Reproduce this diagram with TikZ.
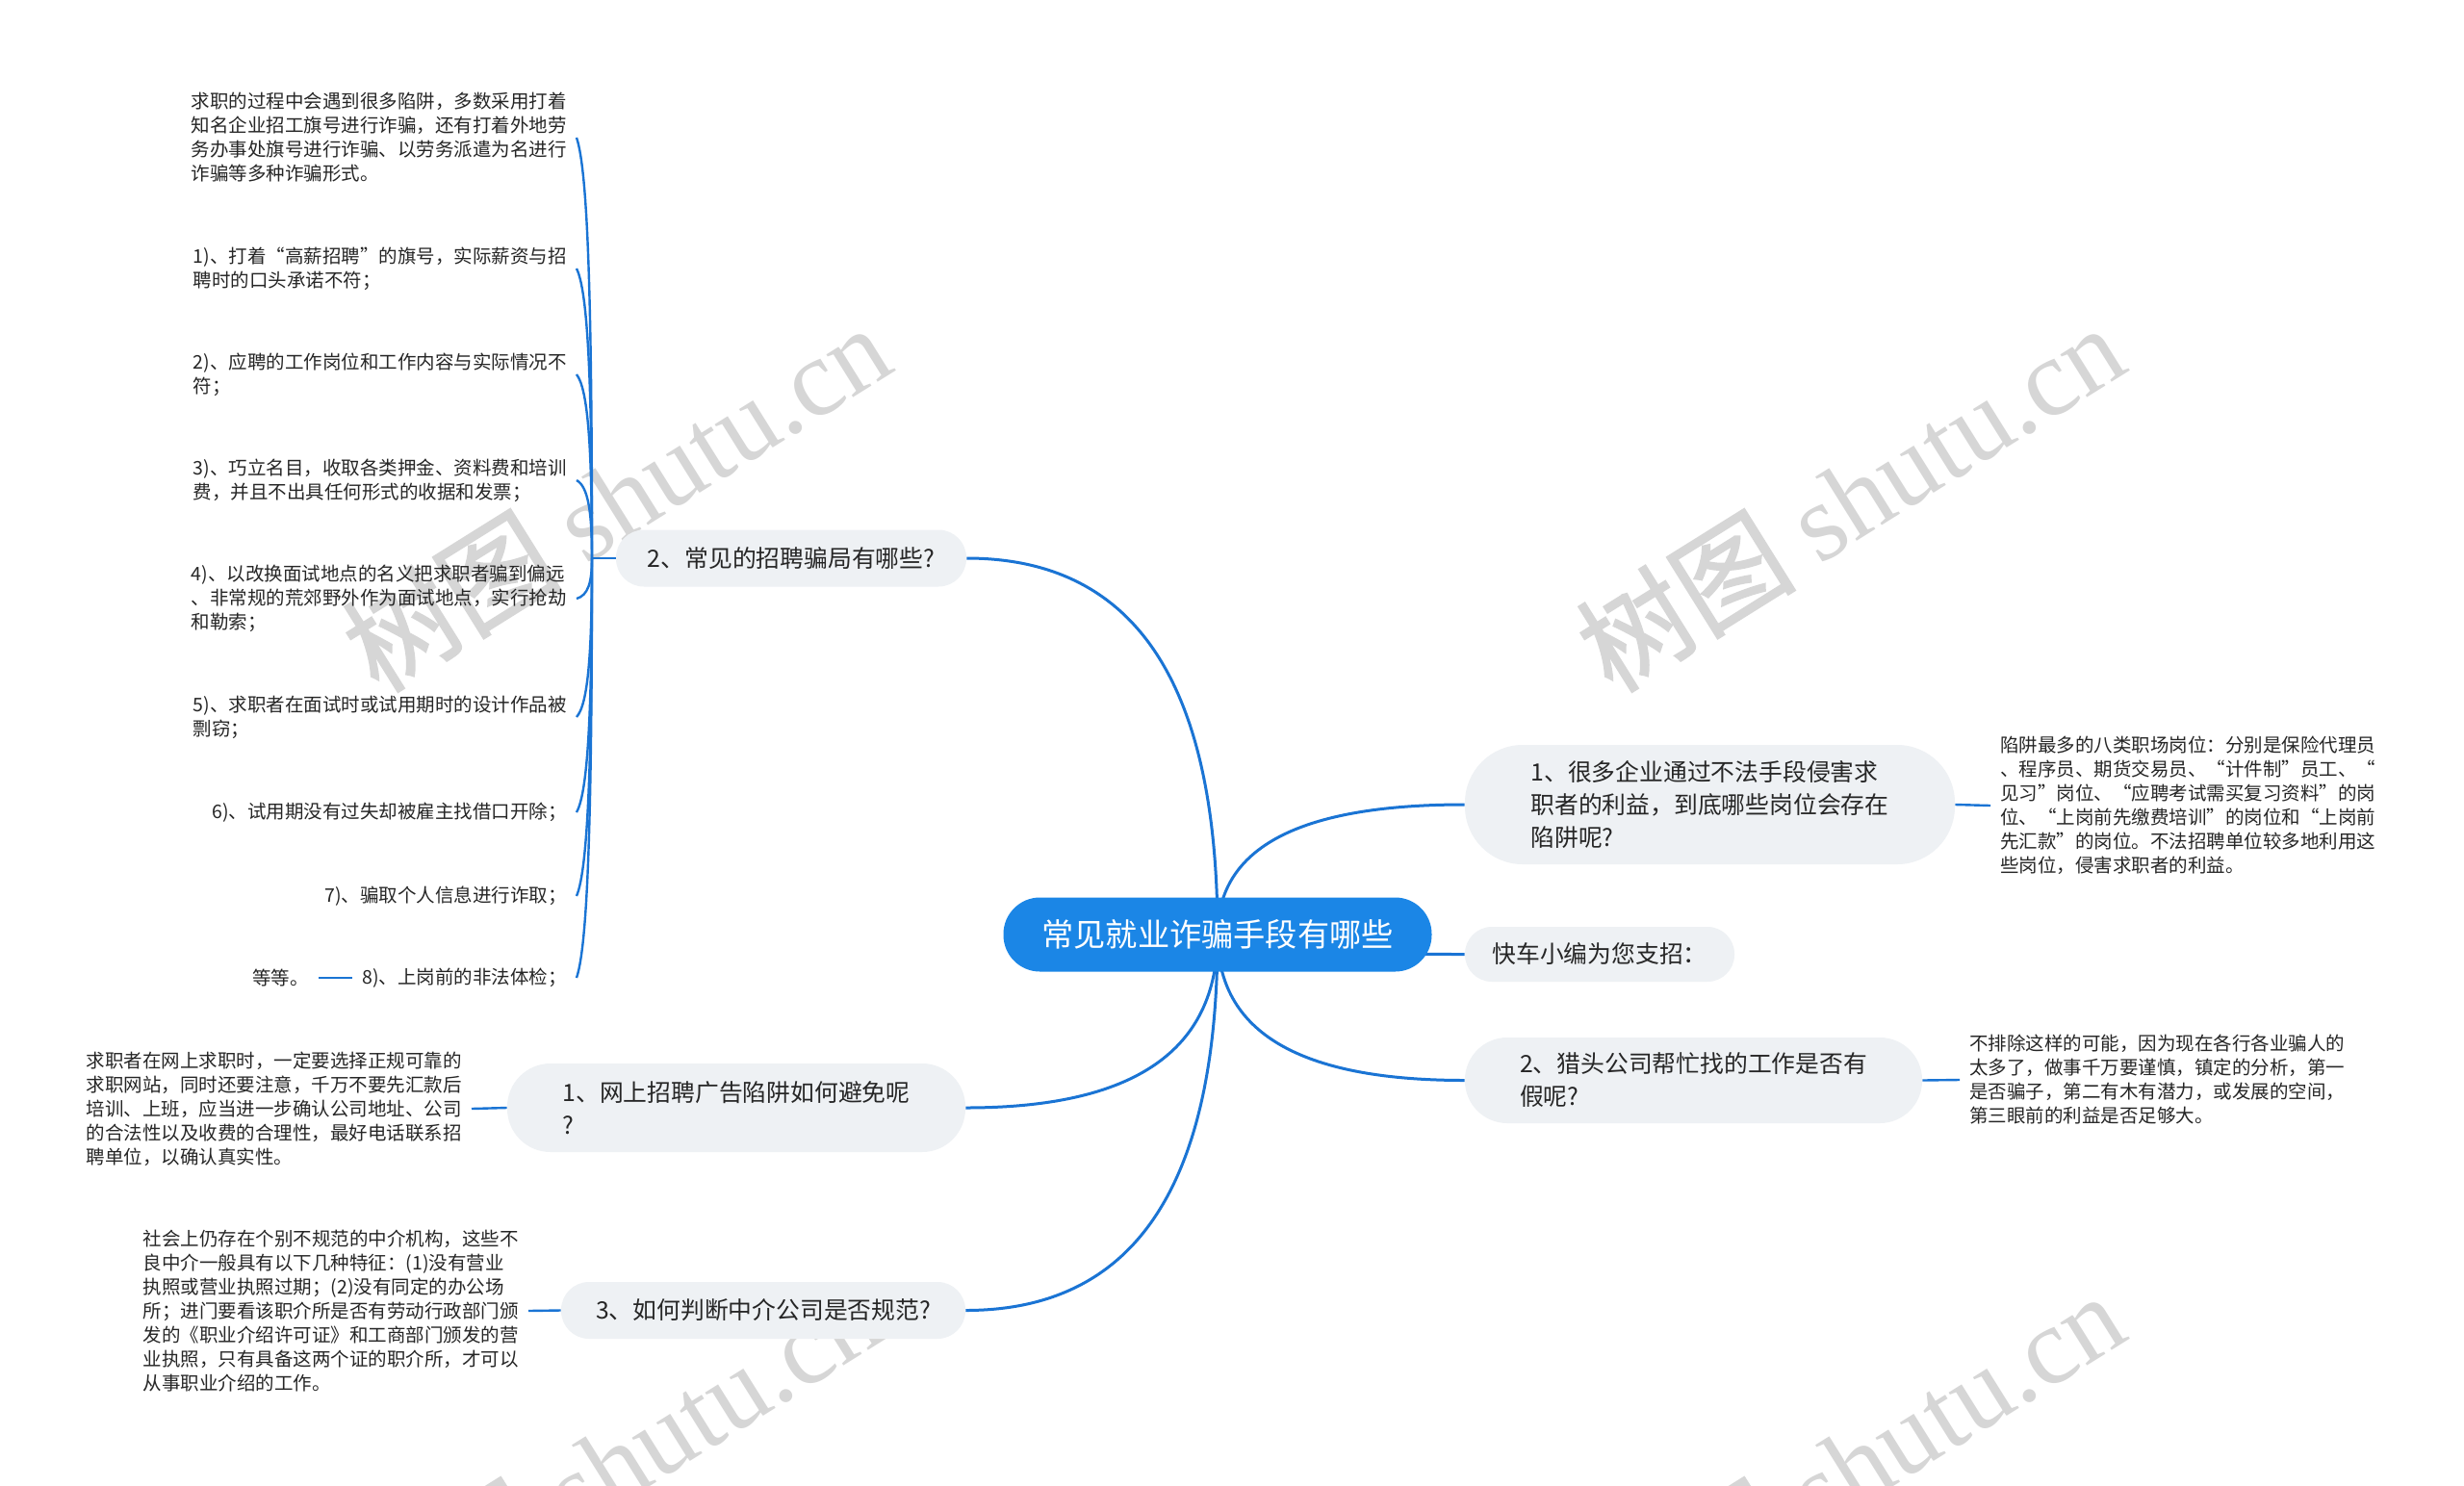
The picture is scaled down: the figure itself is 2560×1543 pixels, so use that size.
\documentclass[tikz,border=0pt]{standalone}
\usepackage{fontspec}
\setmainfont{Noto Sans CJK SC}
\newfontfamily\wmlatin{Liberation Serif}
\newfontfamily\wmcjk[FakeBold=1.5]{Noto Sans CJK SC}
\usetikzlibrary{calc,backgrounds}
\definecolor{rootblue}{HTML}{1B86E6}
\definecolor{lineblue}{HTML}{1A74D4}
\definecolor{nodegray}{HTML}{EEF1F4}
\definecolor{txtc}{HTML}{262626}
\definecolor{wmgray}{HTML}{D6D6D6}
\begin{document}
\begin{tikzpicture}[x=0.5pt,y=-0.5pt,
  rootnode/.style={fill=rootblue,text=white,rounded corners=19pt,minimum width=222.5pt,minimum height=38.5pt,inner sep=0pt,font=\fontsize{16.6}{20}\selectfont},
  branch/.style={fill=nodegray,text=txtc,align=left,inner sep=0pt,font=\fontsize{12.4}{17}\selectfont},
  detail/.style={text=txtc,align=left,inner xsep=5pt,inner ysep=0pt,font=\fontsize{9.75}{12.5}\selectfont},
  mainline/.style={draw=lineblue,line width=1.5pt},
  subline/.style={draw=lineblue,line width=1.2pt},
  wm/.style={text=wmgray,rotate=32,inner sep=0pt,font=\fontsize{57}{57}\selectfont}]
\useasboundingbox (0,0) rectangle (2560,1543);

% root
\node[rootnode] (root) at (1265,971) {常见就业诈骗手段有哪些};

% branches
\node[branch,minimum width=182pt,minimum height=29.5pt,rounded corners=14.5pt] (A) at (822,580) {2、常见的招聘骗局有哪些?};
\node[branch,minimum width=238pt,minimum height=46pt,rounded corners=22.5pt] (B) at (765,1151) {1、网上招聘广告陷阱如何避免呢\\?};
\node[branch,minimum width=210pt,minimum height=29.5pt,rounded corners=14.5pt] (C) at (793,1361.5) {3、如何判断中介公司是否规范?};
\node[branch,minimum width=254.5pt,minimum height=62pt,rounded corners=30pt] (D) at (1776.5,836) {1、很多企业通过不法手段侵害求\\职者的利益，到底哪些岗位会存在\\陷阱呢?};
\node[branch,minimum width=140pt,minimum height=28.5pt,rounded corners=14pt] (E) at (1662,991.5) {快车小编为您支招：};
\node[branch,minimum width=237.5pt,minimum height=44.5pt,rounded corners=22pt] (F) at (1759.5,1122.5) {2、猎头公司帮忙找的工作是否有\\假呢?};

% children of A
\coordinate (pA) at (615,580);
\node[detail,anchor=east] (c0) at (599,143) {求职的过程中会遇到很多陷阱，多数采用打着\\知名企业招工旗号进行诈骗，还有打着外地劳\\务办事处旗号进行诈骗、以劳务派遣为名进行\\诈骗等多种诈骗形式。};
\node[detail,anchor=east] (c1) at (599,279) {1)、打着“高薪招聘”的旗号，实际薪资与招\\聘时的口头承诺不符；};
\node[detail,anchor=east] (c2) at (599,389) {2)、应聘的工作岗位和工作内容与实际情况不\\符；};
\node[detail,anchor=east] (c3) at (599,499) {3)、巧立名目，收取各类押金、资料费和培训\\费，并且不出具任何形式的收据和发票；};
\node[detail,anchor=east] (c4) at (599,622) {4)、以改换面试地点的名义把求职者骗到偏远\\、非常规的荒郊野外作为面试地点，实行抢劫\\和勒索；};
\node[detail,anchor=east] (c5) at (599,745) {5)、求职者在面试时或试用期时的设计作品被\\剽窃；};
\node[detail,anchor=east] (c6) at (599,844) {6)、试用期没有过失却被雇主找借口开除；};
\node[detail,anchor=east] (c7) at (599,931) {7)、骗取个人信息进行诈取；};
\node[detail,anchor=east] (c8) at (599,1016) {8)、上岗前的非法体检；};
\node[detail,anchor=east] (etc) at (331,1016) {等等。};

% other details
\node[detail,anchor=east] (bd) at (490,1152) {求职者在网上求职时，一定要选择正规可靠的\\求职网站，同时还要注意，千万不要先汇款后\\培训、上班，应当进一步确认公司地址、公司\\的合法性以及收费的合理性，最好电话联系招\\聘单位，以确认真实性。};
\node[detail,anchor=east] (cd) at (549,1362) {社会上仍存在个别不规范的中介机构，这些不\\良中介一般具有以下几种特征：(1)没有营业\\执照或营业执照过期；(2)没有同定的办公场\\所；进门要看该职介所是否有劳动行政部门颁\\发的《职业介绍许可证》和工商部门颁发的营\\业执照，只有具备这两个证的职介所，才可以\\从事职业介绍的工作。};
\node[detail,anchor=west] (dd) at (2068,837) {陷阱最多的八类职场岗位：分别是保险代理员\\、程序员、期货交易员、“计件制”员工、“\\见习”岗位、“应聘考试需买复习资料”的岗\\位、“上岗前先缴费培训”的岗位和“上岗前\\先汇款”的岗位。不法招聘单位较多地利用这\\些岗位，侵害求职者的利益。};
\node[detail,anchor=west] (fd) at (2036,1122) {不排除这样的可能，因为现在各行各业骗人的\\太多了，做事千万要谨慎，镇定的分析，第一\\是否骗子，第二有木有潜力，或发展的空间，\\第三眼前的利益是否足够大。};

\begin{scope}[on background layer]
\fill[white] (0,0) rectangle (2560,1543);
\node[wm] (w1) at (640,516) {{\wmcjk 树图} {\wmlatin shutu.cn}};
\node[wm] (w2) at (1922,516) {{\wmcjk 树图} {\wmlatin shutu.cn}};
\node[wm] (w3) at (630,1522) {{\wmcjk 树图} {\wmlatin shutu.cn}};
\node[wm] (w4) at (1922,1522) {{\wmcjk 树图} {\wmlatin shutu.cn}};
\foreach \t in {A.east,B.east,C.east,D.west,E.west,F.west}
  \draw[mainline] (root.center) .. controls ($(root.center)!0.67!(root.center|-\t)$) and ($(\t)!0.67!(root.center|-\t)$) .. (\t);
\draw[subline] (A.west) -- (pA);
\foreach \ch in {c0,c1,c2,c3,c4,c5,c6,c7,c8}
  \draw[subline] (pA) .. controls ($(pA)!0.6!(pA|-\ch.east)$) and ([xshift=6pt]$(\ch.east)!0.08!(\ch.east|-pA)$) .. (\ch.east);
\draw[subline] (c8.west) -- (etc.east);
\draw[subline] (B.west) -- (bd.east);
\draw[subline] (C.west) -- (cd.east);
\draw[subline] (D.east) -- (dd.west);
\draw[subline] (F.east) -- (fd.west);
\end{scope}
\end{tikzpicture}
\end{document}
